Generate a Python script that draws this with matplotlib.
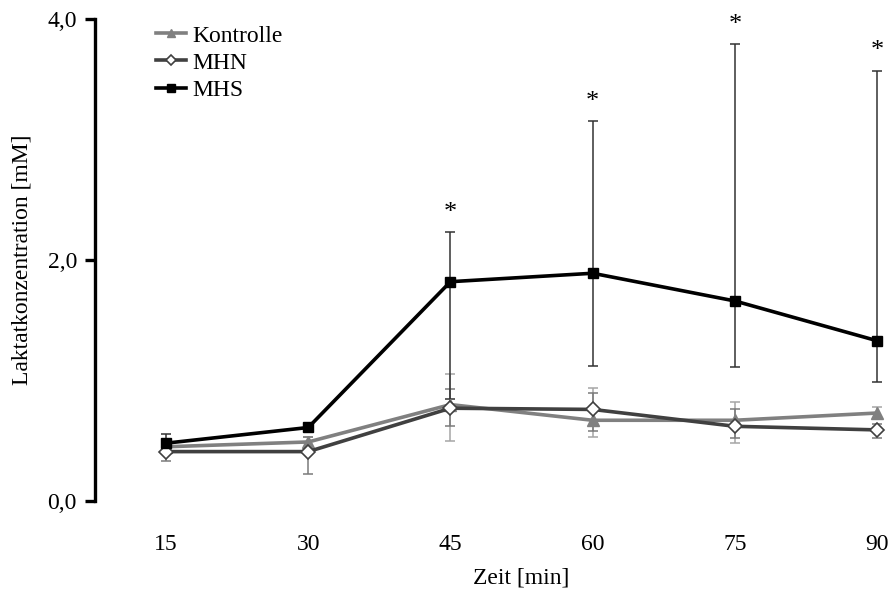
import matplotlib
matplotlib.use("Agg")
import matplotlib.pyplot as plt
import numpy as np

# =========================
# Daten
# =========================
zeit = [15, 30, 45, 60, 75, 90]
zeit_labels = ["15", "30", "45", "60", "75", "90"]

kontrolle = [0.45, 0.49, 0.80, 0.67, 0.67, 0.73]
kontrolle_oben = [0.50, 0.53, 1.05, 0.94, 0.82, 0.78]
kontrolle_unten = [0.40, 0.45, 0.50, 0.53, 0.48, 0.68]

mhn = [0.41, 0.41, 0.77, 0.76, 0.62, 0.59]
mhn_oben = [0.48, 0.53, 0.93, 0.90, 0.76, 0.64]
mhn_unten = [0.33, 0.22, 0.62, 0.58, 0.52, 0.52]

mhs = [0.48, 0.61, 1.82, 1.89, 1.66, 1.33]
mhs_oben = [0.56, 0.61, 2.23, 3.15, 3.79, 3.57]
mhs_unten = [0.41, 0.61, 0.85, 1.12, 1.11, 0.99]

signifikanz = ["", "", "*", "*", "*", "*"]

y_ticks = [0, 2, 4]
y_labels = ["0,0", "2,0", "4,0"]

# =========================
# Plot
# =========================
plt.rcParams["font.family"] = ["Liberation Serif", "DejaVu Serif"]
plt.rcParams["font.size"] = 17

fig = plt.figure(figsize=(8.96, 5.93), dpi=100)
ax = fig.add_axes([95 / 896, 1 - 501 / 593, 1 - 95 / 896, (501 - 19) / 593])


def fehler(werte, oben, unten):
    w = np.array(werte)
    return [w - np.array(unten), np.array(oben) - w]


serien = [
    ("Kontrolle", kontrolle, kontrolle_oben, kontrolle_unten,
     dict(color="#808080", marker="^", mfc="#808080", mec="#808080", ms=8), "#a6a6a6"),
    ("MHN", mhn, mhn_oben, mhn_unten,
     dict(color="#404040", marker="D", mfc="white", mec="#404040", ms=7, mew=1.2), "#7a7a7a"),
    ("MHS", mhs, mhs_oben, mhs_unten,
     dict(color="black", marker="s", mfc="black", mec="black", ms=7.5), "#333333"),
]

handles = []
for i, (name, werte, oben, unten, stil, ecol) in enumerate(serien):
    ax.errorbar(zeit, werte, yerr=fehler(werte, oben, unten), fmt="none",
                ecolor=ecol, elinewidth=1.1, capsize=3.5, capthick=1.1, zorder=2 + i)
    (h,) = ax.plot(zeit, werte, lw=2.6, label=name, zorder=5 + i, **stil)
    handles.append(h)

for x, oben, s in zip(zeit, mhs_oben, signifikanz):
    if s:
        ax.annotate(s, (x, oben), xytext=(0, 14), textcoords="offset points",
                    ha="center", va="center", fontsize=19, annotation_clip=False)

ax.set_xlim(7.5, 92)
ax.set_ylim(0, 4)
ax.set_xticks(zeit)
ax.set_xticklabels(zeit_labels)
ax.set_yticks(y_ticks)
ax.set_yticklabels(y_labels)

for s in ["top", "right", "bottom"]:
    ax.spines[s].set_visible(False)
ax.spines["left"].set_linewidth(2.4)
ax.tick_params(axis="y", direction="out", length=7, width=2.4, pad=6)
ax.tick_params(axis="x", length=0, pad=24)

ax.set_ylabel("Laktatkonzentration [mM]", va="center")
ax.yaxis.set_label_coords((22 - 95) / 801, 0.5)
ax.set_xlabel("Zeit [min]", va="center")
ax.xaxis.set_label_coords((521 - 95) / 801, -(578 - 501) / 482)

fig.legend(handles=handles, loc="upper left", frameon=False,
           bbox_to_anchor=(156 / 896, 1 - 25 / 593), borderpad=0, borderaxespad=0,
           handlelength=1.25, handletextpad=0.3, labelspacing=0.24, markerscale=0.75)

fig.savefig("out.png", dpi=100)
